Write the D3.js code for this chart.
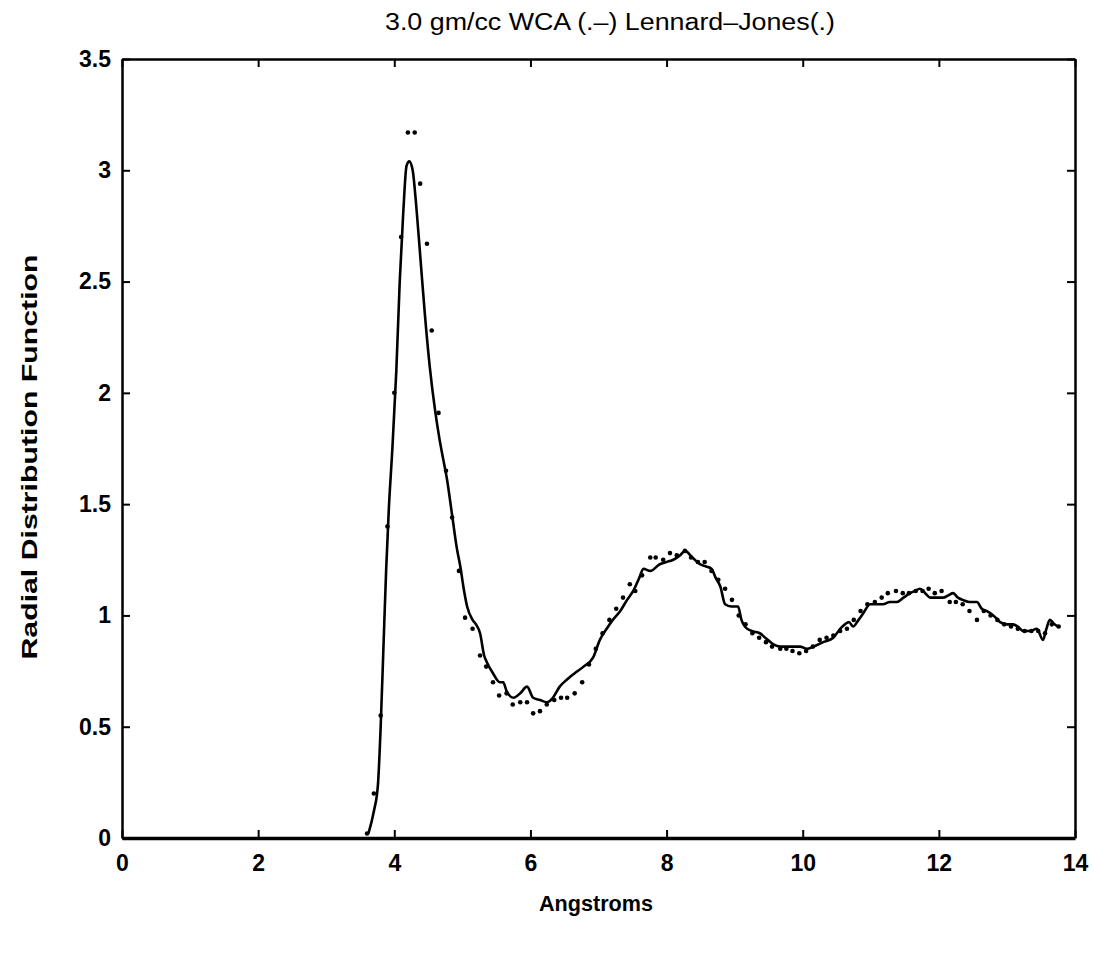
<!DOCTYPE html>
<html lang="en">
<head>
<meta charset="UTF-8">
<title>Radial Distribution Function</title>
<script src="https://cdn.jsdelivr.net/npm/d3@7/dist/d3.min.js"></script>
<style>
    body { margin: 0; background: #fff; }
    svg text { font-family: "Liberation Sans", "DejaVu Sans", sans-serif; fill: #000; }
</style>
</head>
<body>
<svg width="1094" height="953"></svg>
<script>
    // WCA (solid line)
    var wcaX = [3.62, 3.70, 3.76, 3.80, 3.84, 3.88, 3.92, 3.97, 4.03, 4.08, 4.13, 4.18, 4.22, 4.27, 4.32, 4.38, 4.45, 4.52, 4.60, 4.66,
        4.72, 4.77, 4.85, 4.92, 4.97, 5.02, 5.07, 5.15, 5.20, 5.26, 5.32, 5.36, 5.45, 5.55, 5.60, 5.65, 5.75, 5.85, 5.95, 6.04,
        6.14, 6.24, 6.33, 6.43, 6.53, 6.65, 6.78, 6.92, 7.02, 7.12, 7.21, 7.32, 7.42, 7.51, 7.60, 7.66, 7.76, 7.90, 8.00, 8.10,
        8.20, 8.27, 8.38, 8.49, 8.58, 8.66, 8.72, 8.79, 8.86, 8.95, 9.05, 9.10, 9.15, 9.25, 9.37, 9.45, 9.57, 9.67, 9.77, 9.87,
        9.96, 10.06, 10.16, 10.30, 10.45, 10.55, 10.62, 10.68, 10.74, 10.82, 10.89, 10.99, 11.08, 11.18, 11.28, 11.38, 11.48, 11.58, 11.65, 11.72,
        11.80, 11.87, 11.96, 12.06, 12.14, 12.21, 12.28, 12.35, 12.45, 12.56, 12.63, 12.70, 12.80, 12.90, 13.00, 13.09, 13.16, 13.24, 13.34, 13.44,
        13.53, 13.58, 13.63, 13.70, 13.75];
    var wcaY = [0.02, 0.12, 0.24, 0.50, 0.85, 1.20, 1.48, 1.74, 2.10, 2.50, 2.80, 3.02, 3.04, 3.00, 2.85, 2.62, 2.35, 2.12, 1.92, 1.80,
        1.70, 1.62, 1.45, 1.30, 1.22, 1.12, 1.04, 0.98, 0.96, 0.92, 0.82, 0.79, 0.74, 0.70, 0.70, 0.66, 0.63, 0.65, 0.68, 0.63,
        0.62, 0.61, 0.63, 0.68, 0.71, 0.74, 0.77, 0.81, 0.89, 0.94, 0.98, 1.02, 1.07, 1.11, 1.17, 1.21, 1.20, 1.23, 1.24, 1.25,
        1.27, 1.29, 1.26, 1.23, 1.22, 1.21, 1.17, 1.13, 1.05, 1.04, 1.04, 0.98, 0.95, 0.93, 0.92, 0.90, 0.87, 0.86, 0.86, 0.86,
        0.86, 0.85, 0.86, 0.88, 0.90, 0.94, 0.96, 0.97, 0.95, 0.98, 1.01, 1.05, 1.05, 1.05, 1.06, 1.06, 1.08, 1.10, 1.11, 1.12,
        1.10, 1.08, 1.08, 1.08, 1.09, 1.10, 1.08, 1.07, 1.06, 1.06, 1.03, 1.02, 1.00, 0.97, 0.96, 0.96, 0.95, 0.93, 0.93, 0.94,
        0.89, 0.94, 0.98, 0.96, 0.95];

    // Lennard-Jones (dots)
    var ljX = [3.60, 3.70, 3.80, 3.90, 4.00, 4.10, 4.20, 4.30, 4.38, 4.48, 4.55, 4.65, 4.76, 4.85, 4.95, 5.04, 5.15, 5.26, 5.35, 5.45,
        5.54, 5.65, 5.74, 5.85, 5.95, 6.04, 6.14, 6.24, 6.35, 6.45, 6.54, 6.65, 6.76, 6.86, 6.96, 7.06, 7.16, 7.26, 7.36, 7.46,
        7.54, 7.64, 7.76, 7.84, 7.95, 8.05, 8.15, 8.27, 8.36, 8.46, 8.56, 8.66, 8.76, 8.86, 8.96, 9.06, 9.16, 9.26, 9.36, 9.46,
        9.55, 9.67, 9.76, 9.85, 9.95, 10.05, 10.15, 10.25, 10.35, 10.45, 10.55, 10.65, 10.75, 10.85, 10.95, 11.06, 11.16, 11.25, 11.37, 11.47,
        11.56, 11.66, 11.76, 11.85, 11.94, 12.04, 12.16, 12.25, 12.35, 12.45, 12.56, 12.66, 12.76, 12.86, 12.96, 13.06, 13.16, 13.26, 13.36, 13.46,
        13.56, 13.66, 13.76];
    var ljY = [0.02, 0.20, 0.55, 1.40, 2.00, 2.70, 3.17, 3.17, 2.94, 2.67, 2.28, 1.91, 1.65, 1.44, 1.20, 0.99, 0.94, 0.82, 0.77, 0.70,
        0.64, 0.65, 0.60, 0.61, 0.61, 0.56, 0.57, 0.60, 0.62, 0.63, 0.63, 0.65, 0.70, 0.78, 0.85, 0.92, 0.98, 1.03, 1.08, 1.14,
        1.11, 1.18, 1.26, 1.26, 1.25, 1.28, 1.27, 1.29, 1.26, 1.24, 1.24, 1.20, 1.16, 1.12, 1.07, 1.00, 0.96, 0.92, 0.90, 0.88,
        0.86, 0.85, 0.85, 0.84, 0.83, 0.84, 0.86, 0.89, 0.90, 0.91, 0.93, 0.94, 0.98, 1.02, 1.05, 1.06, 1.08, 1.10, 1.11, 1.10,
        1.10, 1.11, 1.11, 1.12, 1.10, 1.11, 1.06, 1.06, 1.05, 1.02, 0.98, 1.02, 1.00, 0.98, 0.96, 0.95, 0.94, 0.93, 0.93, 0.93,
        0.92, 0.96, 0.95];

    var xTicks = [0, 2, 4, 6, 8, 10, 12, 14];
    var yTicks = [0, 0.5, 1, 1.5, 2, 2.5, 3, 3.5];

    var svg = d3.select("svg");
    var padding = {top: 59, right: 19, bottom: 115, left: 122};
    var width = 1094, height = 953;
    var w = width - padding.left - padding.right;
    var h = height - padding.top - padding.bottom;

    var x = d3.scaleLinear().domain([0, 14]).range([0, w]);
    var y = d3.scaleLinear().domain([0, 3.5]).range([h, 0]);

    var g = svg.append("g").attr("transform", "translate(" + padding.left + "," + padding.top + ")");

    var fmt = function (d) { return String(d); };

    var bottom = g.append("g").attr("transform", "translate(0," + h + ")")
        .call(d3.axisBottom(x).tickValues(xTicks).tickFormat(fmt).tickSizeInner(-8).tickSizeOuter(0).tickPadding(17));
    var left = g.append("g")
        .call(d3.axisLeft(y).tickValues(yTicks).tickFormat(fmt).tickSizeInner(-8).tickSizeOuter(0).tickPadding(11));
    g.append("g")
        .call(d3.axisTop(x).tickValues(xTicks).tickFormat("").tickSizeInner(-8).tickSizeOuter(0));
    g.append("g").attr("transform", "translate(" + w + ",0)")
        .call(d3.axisRight(y).tickValues(yTicks).tickFormat("").tickSizeInner(-8).tickSizeOuter(0));

    g.selectAll(".domain").attr("stroke", "#000").attr("stroke-width", 2.5);
    g.selectAll(".tick line").attr("stroke", "#000").attr("stroke-width", 2);
    bottom.select(".domain").attr("stroke-width", 3.5);
    g.selectAll(".tick text").style("font-size", "23px").style("font-weight", "bold");

    // WCA line
    var wca = wcaX.map(function (d, i) { return [d, wcaY[i]]; });
    var line = d3.line()
        .x(function (d) { return x(d[0]); })
        .y(function (d) { return y(d[1]); })
        .curve(d3.curveMonotoneX);
    g.append("path")
        .datum(wca)
        .attr("fill", "none")
        .attr("stroke", "#000")
        .attr("stroke-width", 2.6)
        .attr("d", line);

    // LJ dots
    g.selectAll("circle.lj")
        .data(ljX)
        .enter()
        .append("circle")
        .attr("class", "lj")
        .attr("cx", function (d) { return x(d); })
        .attr("cy", function (d, i) { return y(ljY[i]); })
        .attr("r", 2.3)
        .attr("fill", "#000");

    // titles
    svg.append("text")
        .attr("x", 610)
        .attr("y", 30)
        .attr("text-anchor", "middle")
        .attr("textLength", 450)
        .attr("lengthAdjust", "spacingAndGlyphs")
        .style("font-size", "23px")
        .text("3.0 gm/cc WCA (.\u2013) Lennard\u2013Jones(.)");

    svg.append("text")
        .attr("x", 596)
        .attr("y", 911)
        .attr("text-anchor", "middle")
        .attr("textLength", 114)
        .attr("lengthAdjust", "spacingAndGlyphs")
        .style("font-size", "22px")
        .style("font-weight", "bold")
        .text("Angstroms");

    svg.append("text")
        .attr("transform", "translate(37,457) rotate(-90)")
        .attr("text-anchor", "middle")
        .attr("textLength", 405)
        .attr("lengthAdjust", "spacingAndGlyphs")
        .style("font-size", "22px")
        .style("font-weight", "bold")
        .text("Radial Distribution Function");
</script>
</body>
</html>
